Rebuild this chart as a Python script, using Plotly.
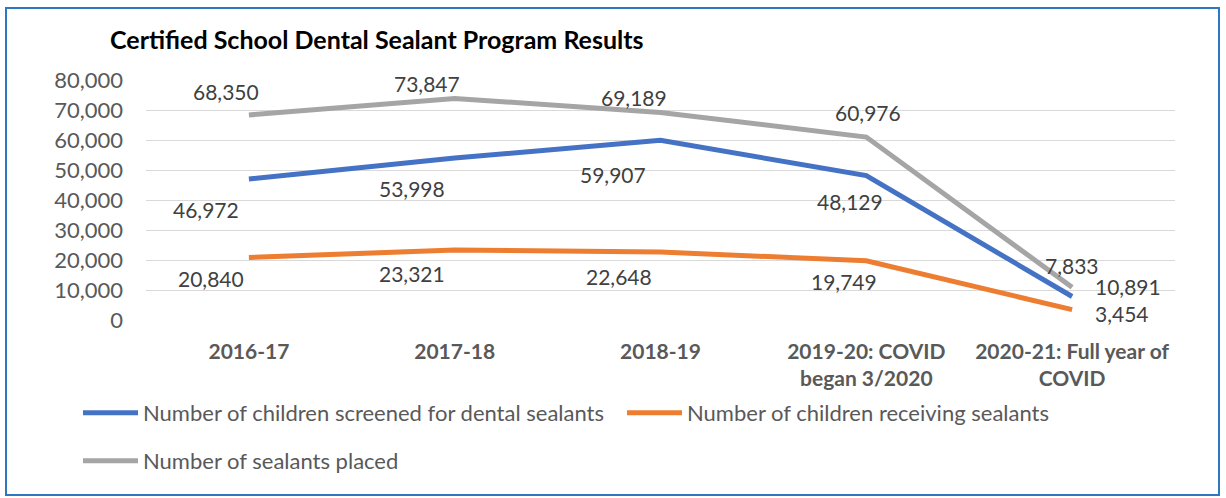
import plotly.graph_objects as go

years = ["2016-17", "2017-18", "2018-19", "2019-20: COVID<br>began 3/2020", "2020-21: Full year of<br>COVID"]
screened = [46972, 53998, 59907, 48129, 7833]
receiving = [20840, 23321, 22648, 19749, 3454]
placed = [68350, 73847, 69189, 60976, 10891]
y_ticks = [0, 10000, 20000, 30000, 40000, 50000, 60000, 70000, 80000]

FONT = "Lato, 'Noto Sans', sans-serif"
BLUE = "#4472C4"
ORANGE = "#ED7D31"
GRAY = "#A5A5A5"

# label offsets (px) copied from the hand-placed excel labels
shifts = {
    "screened": [(-43, -30), (-43, -30), (-48, -34), (-16, -26), (0, 31)],
    "receiving": [(-38, -21), (-43, -23), (-42, -24), (-22, -21), (50, -4)],
    "placed": [(-23, 23), (-28, 15), (-27, 15), (2, 25), (56, 1)],
}

fig = go.Figure()

series = [
    ("Number of children screened for dental sealants", screened, BLUE, "legend", "screened"),
    ("Number of children receiving sealants", receiving, ORANGE, "legend3", "receiving"),
    ("Number of sealants placed", placed, GRAY, "legend2", "placed"),
]

for name, vals, color, leg, key in series:
    fig.add_trace(
        go.Scatter(
            x=years,
            y=vals,
            mode="lines",
            name=name,
            line=dict(color=color, width=5),
            legend=leg,
        )
    )

annotations = []
for name, vals, color, leg, key in series:
    for i, v in enumerate(vals):
        dx, dy = shifts[key][i]
        annotations.append(
            dict(
                x=years[i],
                y=v,
                text=f"{v:,}",
                showarrow=False,
                xshift=dx,
                yshift=dy,
                borderpad=0,
                font=dict(family=FONT, size=21, color="#404040"),
            )
        )

legend_style = dict(
    orientation="h",
    x=(78 - 146) / 1029,
    xanchor="left",
    yanchor="middle",
    font=dict(family=FONT, size=22, color="#595959"),
    itemwidth=55,
    bgcolor="rgba(0,0,0,0)",
)

fig.update_layout(
    width=1226,
    height=498,
    margin=dict(l=146, r=51, t=80, b=178),
    paper_bgcolor="white",
    plot_bgcolor="white",
    font=dict(family=FONT, color="#595959"),
    title=dict(
        text="<b>Certified School Dental Sealant Program Results</b>",
        x=110 / 1226,
        xanchor="left",
        y=1 - 40 / 498,
        yanchor="middle",
        font=dict(family=FONT, size=25, color="black"),
    ),
    xaxis=dict(
        type="category",
        range=[-0.5, 4.5],
        showgrid=False,
        showline=False,
        zeroline=False,
        ticks="",
        ticklabelstandoff=17,
        tickfont=dict(family=FONT, size=21, color="#595959", weight="bold"),
    ),
    yaxis=dict(
        range=[0, 80000],
        tickvals=y_ticks,
        tickformat=",",
        showgrid=True,
        gridcolor="#D9D9D9",
        gridwidth=1.3,
        zeroline=False,
        showline=False,
        ticks="",
        ticklabelstandoff=22,
        tickfont=dict(family=FONT, size=22, color="#595959"),
    ),
    legend=dict(legend_style, y=(320 - 413) / 240),
    legend3=dict(legend_style, x=(622 - 146) / 1029, y=(320 - 413) / 240),
    legend2=dict(legend_style, y=(320 - 461) / 240),
    annotations=annotations,
    shapes=[
        dict(
            type="rect",
            xref="paper",
            yref="paper",
            x0=(6 - 146) / 1029,
            x1=(1219 - 146) / 1029,
            y0=(320 - 495) / 240,
            y1=(320 - 8) / 240,
            line=dict(color="#2E78C2", width=2),
            layer="below",
        )
    ],
    showlegend=True,
)

fig.write_html(
    "out.html",
    config={"displayModeBar": False},
    post_script="document.body.style.margin='0';",
)
